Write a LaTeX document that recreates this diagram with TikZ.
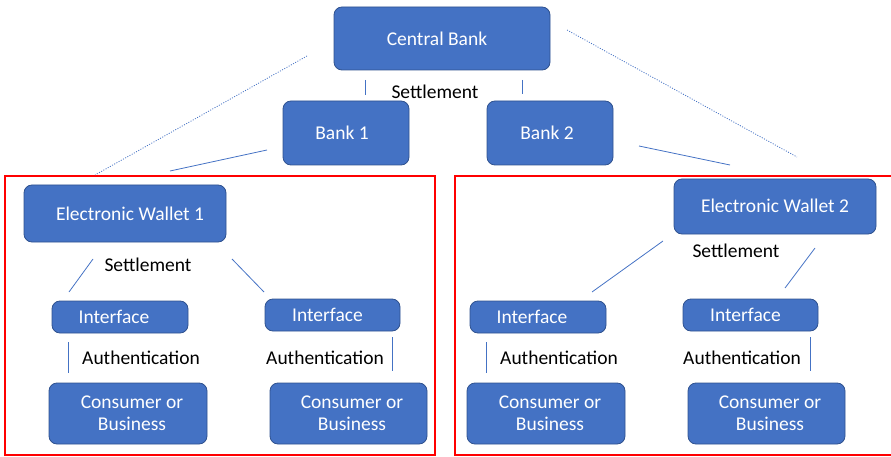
\documentclass[tikz,border=0pt]{standalone}
\usepackage{fontspec}
\setmainfont{Carlito}
\definecolor{boxblue}{HTML}{4472C4}
\definecolor{boxedge}{HTML}{2F528F}
\begin{document}
\begin{tikzpicture}[x=1pt,y=-1pt,
  bluebox/.style={draw=boxedge,line width=0.8pt,fill=boxblue,rounded corners=8pt,text=white,font=\fontsize{19.5}{22}\selectfont,inner sep=0pt},
  lbl/.style={text=black,font=\fontsize{19.5}{22}\selectfont,inner sep=0pt},
  link/.style={draw=boxblue,line width=0.8pt},
  dotlink/.style={draw=boxblue,line width=0.8pt,dash pattern=on 1pt off 1.5pt},
  redframe/.style={draw=red,line width=2pt}]
\useasboundingbox (0,0) rectangle (891,457);
% red frames
\draw[redframe] (5,176) rectangle (435,455);
\draw[redframe] (455,176) rectangle (900,455);
% top level
\node[bluebox,minimum width=216pt,minimum height=63pt] (cb) at (442,38.5) {\hspace*{-10pt}\raisebox{-1.5pt}{Central Bank}};
\node[bluebox,minimum width=126pt,minimum height=64pt] (b1) at (346,133) {\hspace*{-8pt}\raisebox{-2pt}{Bank 1}};
\node[bluebox,minimum width=126pt,minimum height=64pt] (b2) at (550,133) {\hspace*{-6pt}\raisebox{-2pt}{Bank 2}};
\node[lbl] (set0) at (435,92) {Settlement};
% wallets
\node[bluebox,minimum width=202pt,minimum height=57pt] (w1) at (125,213.5) {\hspace*{10pt}Electronic Wallet 1};
\node[bluebox,minimum width=202pt,minimum height=55pt] (w2) at (775,206.5) {\raisebox{2pt}{Electronic Wallet 2}};
\node[lbl] (set1) at (148,265) {Settlement};
\node[lbl] (set2) at (736,251) {Settlement};
% interfaces
\node[bluebox,minimum width=136pt,minimum height=32pt] (i1) at (120,317) {\hspace*{-12pt}Interface};
\node[bluebox,minimum width=135pt,minimum height=32pt] (i2) at (332.5,315) {\hspace*{-10pt}Interface};
\node[bluebox,minimum width=136pt,minimum height=32pt] (i3) at (538,317) {\hspace*{-12pt}Interface};
\node[bluebox,minimum width=135pt,minimum height=32pt] (i4) at (750.5,315) {\hspace*{-10pt}Interface};
% authentication labels
\node[lbl] (a1) at (141,358) {Authentication};
\node[lbl] (a2) at (325,358) {Authentication};
\node[lbl] (a3) at (559,358) {Authentication};
\node[lbl] (a4) at (742,358) {Authentication};
% consumers
\node[bluebox,minimum width=158pt,minimum height=61pt,align=center] (c1) at (128,413.5) {\hspace*{8pt}Consumer or\\\hspace*{8pt}Business};
\node[bluebox,minimum width=157pt,minimum height=61pt,align=center] (c2) at (348.5,413.5) {\hspace*{7pt}Consumer or\\\hspace*{7pt}Business};
\node[bluebox,minimum width=158pt,minimum height=61pt,align=center] (c3) at (546,413.5) {\hspace*{8pt}Consumer or\\\hspace*{8pt}Business};
\node[bluebox,minimum width=157pt,minimum height=61pt,align=center] (c4) at (766.5,413.5) {\hspace*{7pt}Consumer or\\\hspace*{7pt}Business};
% connector end points
\coordinate (s1a) at (365,80); \coordinate (s1b) at (365,95);
\coordinate (s2a) at (522,80); \coordinate (s2b) at (522,94);
\coordinate (dla) at (307,56); \coordinate (dlb) at (95,175);
\coordinate (dra) at (567,30); \coordinate (drb) at (797,157);
\coordinate (bla) at (267,150); \coordinate (blb) at (170,171);
\coordinate (bra) at (639,146); \coordinate (brb) at (730,165);
\coordinate (l1a) at (93,259); \coordinate (l1b) at (69,292);
\coordinate (l2a) at (232,259); \coordinate (l2b) at (264,292);
\coordinate (r1a) at (663,241); \coordinate (r1b) at (592,292);
\coordinate (r2a) at (815,248); \coordinate (r2b) at (785,288);
\coordinate (v1a) at (68,342); \coordinate (v1b) at (68,373);
\coordinate (v2a) at (392,337); \coordinate (v2b) at (392,371);
\coordinate (v3a) at (486,342); \coordinate (v3b) at (486,373);
\coordinate (v4a) at (810,337); \coordinate (v4b) at (810,371);
% connectors
\draw[link] (s1a) -- (s1b);
\draw[link] (s2a) -- (s2b);
\draw[dotlink] (dla) -- (dlb);
\draw[dotlink] (dra) -- (drb);
\draw[link] (bla) -- (blb);
\draw[link] (bra) -- (brb);
\draw[link] (l1a) -- (l1b);
\draw[link] (l2a) -- (l2b);
\draw[link] (r1a) -- (r1b);
\draw[link] (r2a) -- (r2b);
\draw[link] (v1a) -- (v1b);
\draw[link] (v2a) -- (v2b);
\draw[link] (v3a) -- (v3b);
\draw[link] (v4a) -- (v4b);
\end{tikzpicture}
\end{document}
